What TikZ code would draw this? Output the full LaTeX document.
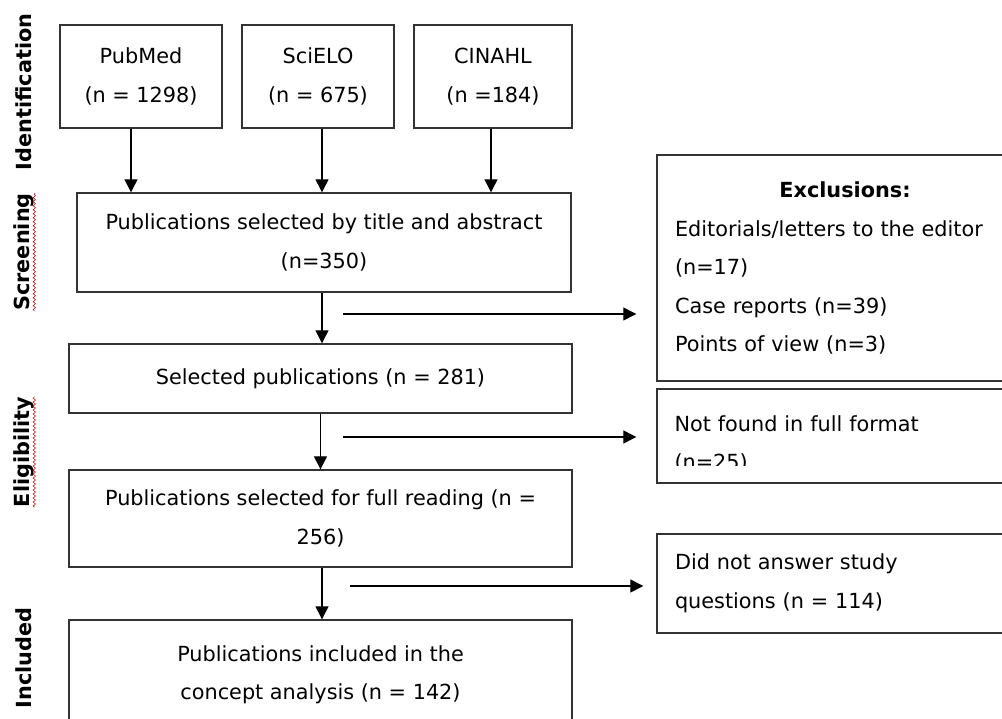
\documentclass[tikz,border=0pt]{standalone}
\usepackage{fontspec}
\setmainfont{DejaVu Sans}
\usetikzlibrary{arrows.meta,decorations.pathmorphing}

\newcommand{\flowfont}{\fontsize{20.8}{38.5}\selectfont}

\tikzset{
  box/.style={draw=black!80, line width=1.4pt, inner sep=0pt, align=center, font=\flowfont},
  side/.style={box, align=left, text width=340pt, inner xsep=18pt},
  sidetext/.style={inner sep=0pt, align=left, text width=340pt, font=\flowfont},
  stage/.style={rotate=90, inner sep=0pt, font=\flowfont\bfseries},
  arr/.style={-{Triangle[length=13pt,width=13pt]}, line width=1.3pt},
  spell/.style={draw=red!85!black, line width=0.6pt, decorate,
    decoration={snake, amplitude=1.1pt, segment length=4pt}}
}

\begin{document}
\begin{tikzpicture}[x=1pt, y=-1pt]
  \useasboundingbox (0,0) rectangle (1002,719);
  \clip (0,0) rectangle (1002,719);

  % stages
  \node[stage] (ident) at (24,92) {Identification};
  \node[stage] (screen) at (24,252) {Screening};
  \node[stage] (elig) at (24,452) {Eligibility};
  \node[stage] (incl) at (24,658) {Included};
  \draw[spell] (screen.south west) -- (screen.south east);
  \draw[spell] (elig.south west) -- (elig.south east);

  % databases
  \node[box, minimum width=162pt, minimum height=103pt] (pub) at (141,76.5) {PubMed\\(n = 1298)};
  \node[box, minimum width=152pt, minimum height=103pt] (sci) at (318,76.5) {SciELO\\(n = 675)};
  \node[box, minimum width=158pt, minimum height=103pt] (cin) at (493,76.5) {CINAHL\\(n =184)};

  % main flow
  \node[box, minimum width=494pt, minimum height=99pt] (scr) at (324,242.5) {Publications selected by title and abstract\\(n=350)};
  \node[box, minimum width=503pt, minimum height=69pt] (sel) at (320.5,378.5) {Selected publications (n = 281)};
  \node[box, minimum width=503pt, minimum height=97pt] (full) at (320.5,518.5) {Publications selected for full reading (n =\\256)};
  \node[box, minimum width=503pt, minimum height=110pt] (inc) at (320.5,675) {Publications included in the\\concept analysis (n = 142)};

  % exclusions
  \node[side, minimum height=226pt] (excl) at (845,268) {\makebox[340pt]{\textbf{Exclusions:}}\\Editorials/letters to the editor\\(n=17)\\Case reports (n=39)\\Points of view (n=3)};
  \node[side, minimum height=94pt] (nf) at (845,436) {};
  \begin{scope}
    \clip (nf.north west) rectangle ([yshift=18pt]nf.south east);
    \node[sidetext, anchor=west] (nftext) at ([xshift=18pt, yshift=-8pt]nf.west) {Not found in full format\\(n=25)};
  \end{scope}
  \node[side, minimum height=99pt] (dna) at (845,583.5) {Did not answer study\\questions (n = 114)};

  \draw[arr] ([xshift=-10pt]pub.south) -- ([xshift=-10pt]pub.south |- scr.north);
  \draw[arr] ([xshift=4pt]sci.south) -- ([xshift=4pt]sci.south |- scr.north);
  \draw[arr] ([xshift=-2pt]cin.south) -- ([xshift=-2pt]cin.south |- scr.north);
  \draw[arr] ([xshift=-2pt]scr.south) -- ([xshift=-2pt]scr.south |- sel.north);
  \draw[arr] (sel.south) -- (sel.south |- full.north);
  \draw[arr] ([xshift=1.5pt]full.south) -- ([xshift=1.5pt]full.south |- inc.north);

  \coordinate (out1) at (343,314);
  \coordinate (out2) at (343,437);
  \coordinate (out3) at (350,586);
  \draw[arr, shorten >=20pt] (out1) -- (out1 -| excl.west);
  \draw[arr, shorten >=20pt] (out2) -- (out2 -| nf.west);
  \draw[arr, shorten >=13pt] (out3) -- (out3 -| dna.west);
\end{tikzpicture}
\end{document}
